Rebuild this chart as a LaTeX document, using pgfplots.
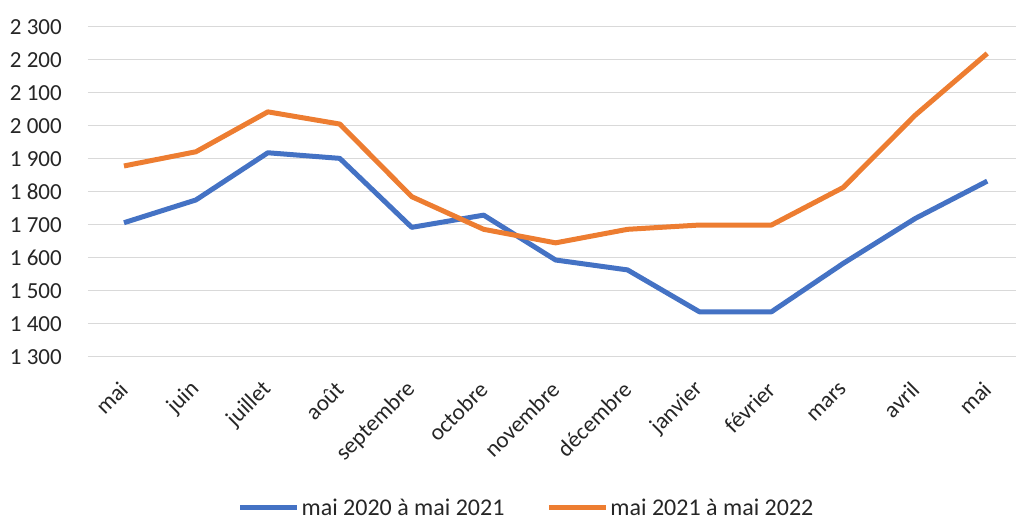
\documentclass[border=0pt]{standalone}
\usepackage{fontspec}
\setmainfont{Carlito}
\usepackage{pgfplots}
\pgfplotsset{compat=1.18}
\definecolor{sblue}{HTML}{4472C4}
\definecolor{sorange}{HTML}{ED7D31}
\definecolor{gridc}{HTML}{D9D9D9}
\definecolor{txt}{HTML}{262626}
\begin{document}
\begin{tikzpicture}
\useasboundingbox (-88pt,-160.3pt) rectangle (928pt,356.7pt);
\begin{axis}[
  at={(0,0)}, anchor=south west,
  scale only axis, width=928pt, height=330pt,
  xmin=-0.5, xmax=12.4, ymin=1300, ymax=2300,
  ytick={1300,1400,...,2300},
  xtick={0,...,12},
  xticklabels={mai,juin,juillet,août,septembre,octobre,novembre,décembre,janvier,février,mars,avril,mai},
  ymajorgrids, grid style={gridc, line width=1.5pt},
  axis line style={draw=none}, tick style={draw=none},
  /pgf/number format/assume math mode=true,
  /pgf/number format/1000 sep={\ },
  tick label style={font=\fontsize{23}{27}\selectfont, text=txt},
  yticklabel style={anchor=east, inner sep=0pt, xshift=-26pt},
  xticklabel style={anchor=east, rotate=45, inner sep=0pt},
  xticklabel shift=29pt,
  legend style={at={(0.4725,-0.458)}, anchor=center, draw=none, fill=none,
    font=\fontsize{24}{28}\selectfont, text=txt, legend columns=2,
    /tikz/every even column/.append style={column sep=40pt}},
  legend cell align=left,
  legend image code/.code={\draw[#1, line width=5pt] (0pt,0pt) -- (57pt,0pt);},
]
\addplot[sblue, line width=5pt, line join=round] coordinates {
(0,1706) (1,1775) (2,1918) (3,1901) (4,1692) (5,1729) (6,1593) (7,1563) (8,1436) (9,1436) (10,1583) (11,1719) (12,1832)};
\addlegendentry{mai 2020 à mai 2021}
\addplot[sorange, line width=5pt, line join=round] coordinates {
(0,1878) (1,1921) (2,2042) (3,2005) (4,1785) (5,1686) (6,1645) (7,1686) (8,1699) (9,1699) (10,1813) (11,2032) (12,2219)};
\addlegendentry{mai 2021 à mai 2022}
\end{axis}
\end{tikzpicture}
\end{document}
